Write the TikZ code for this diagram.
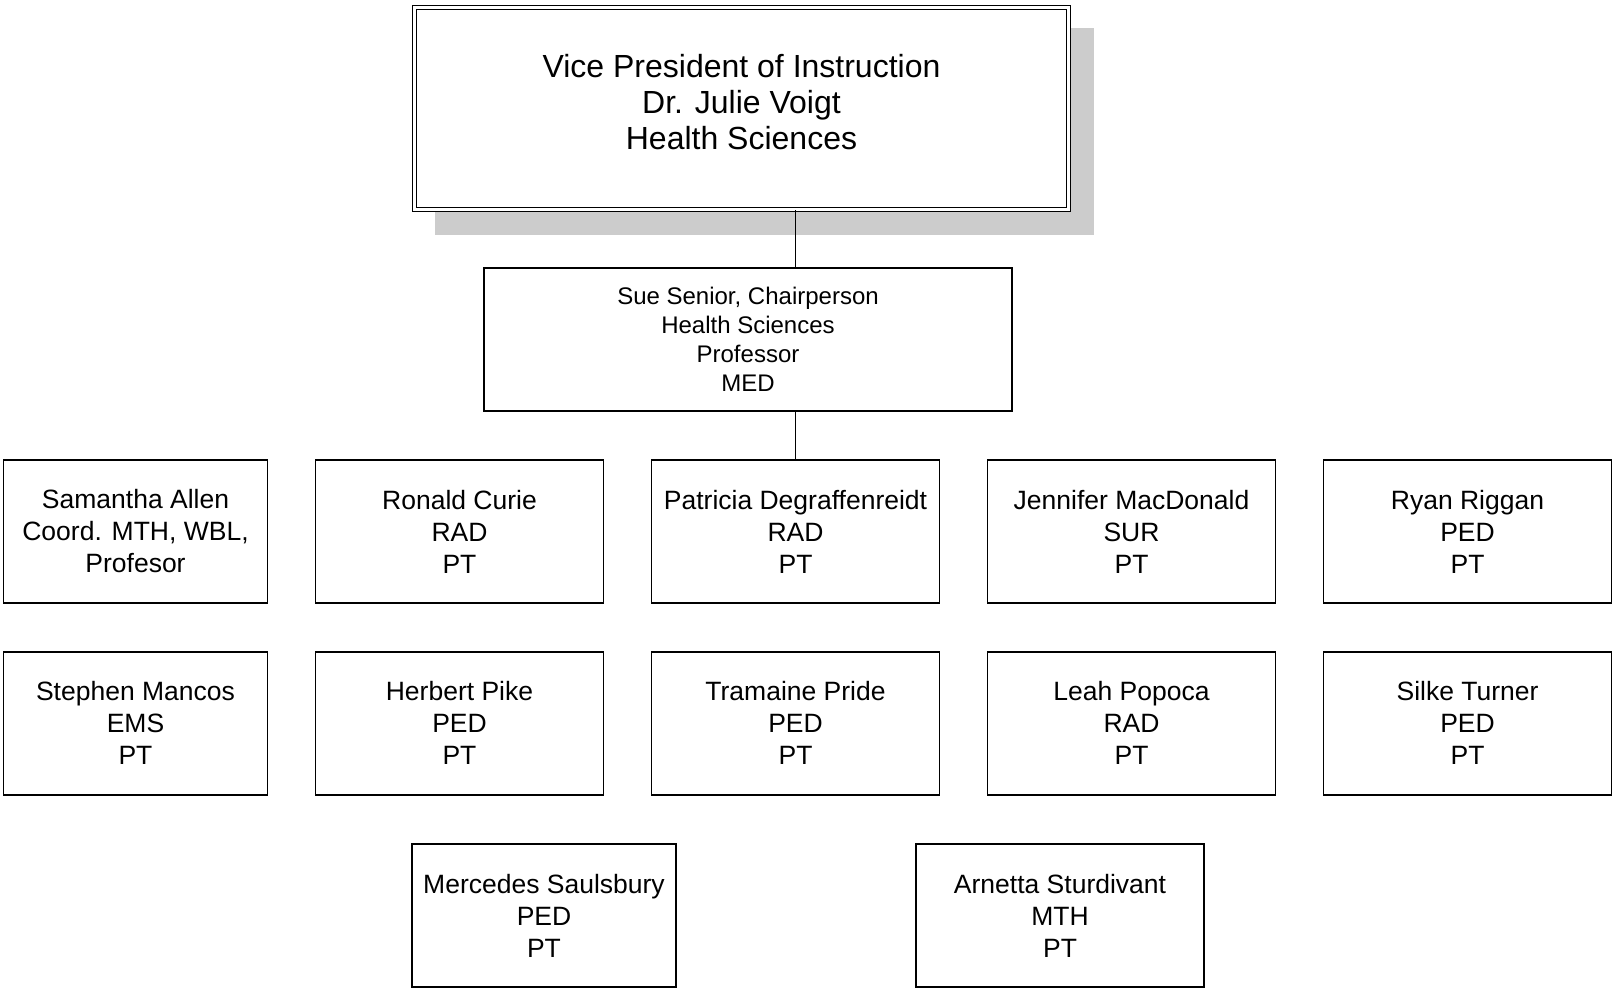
\documentclass[tikz,border=0pt]{standalone}
\usepackage{fontspec}
\setmainfont{Liberation Sans}
\usetikzlibrary{positioning, shadows}

\begin{document}
\begin{tikzpicture}[x=1pt, y=1pt, node distance=47.5pt and 46.6pt]

        % Styles
        \tikzstyle{staff} = [draw, line width=1.4pt, minimum width=288pt, minimum height=143pt, inner sep=0pt, align=center, font=\fontsize{26.5}{32}\selectfont]
        \tikzstyle{narrowstaff} = [staff, minimum width=264pt]
        \tikzstyle{chairbox} = [staff, minimum width=528pt, font=\fontsize{24}{28.8}\selectfont]
        \tikzstyle{vpbox} = [draw, double, fill=white, line width=1.4pt, double distance=2.2pt, minimum width=654pt, minimum height=202pt, align=center, text depth=13.5pt, font=\fontsize{32}{36}\selectfont, general shadow={fill=black!20, draw=black!20, line width=5pt, shadow xshift=22.5pt, shadow yshift=-23.5pt}]
        \tikzstyle{link} = [line width=1.3pt]

        \useasboundingbox (0,0) rectangle (1612,988);

        % Vice president and chair
        \node[vpbox] (vp) at (741.5,879.5) {Vice President of Instruction\\Dr. Julie Voigt\\Health Sciences};
        \node[chairbox] (chair) at (748,648.5) {Sue Senior, Chairperson\\Health Sciences\\Professor\\MED};

        % First row
        \node[narrowstaff] (allen) at (135.5,456.5) {Samantha Allen\\Coord. MTH, WBL,\\Profesor};
        \node[staff, right=of allen] (curie) {Ronald Curie\\RAD\\PT};
        \node[staff, right=of curie] (degraf) {Patricia Degraffenreidt\\RAD\\PT};
        \node[staff, right=of degraf] (macdonald) {Jennifer MacDonald\\SUR\\PT};
        \node[staff, right=of macdonald] (riggan) {Ryan Riggan\\PED\\PT};

        % Second row
        \node[narrowstaff, below=of allen] (mancos) {Stephen Mancos\\EMS\\PT};
        \node[staff, below=of curie] (pike) {Herbert Pike\\PED\\PT};
        \node[staff, below=of degraf] (pride) {Tramaine Pride\\PED\\PT};
        \node[staff, below=of macdonald] (popoca) {Leah Popoca\\RAD\\PT};
        \node[staff, below=of riggan] (turner) {Silke Turner\\PED\\PT};

        % Third row
        \node[narrowstaff] (saulsbury) at (544,72.5) {Mercedes Saulsbury\\PED\\PT};
        \node[staff] (sturdivant) at (1060,72.5) {Arnetta Sturdivant\\MTH\\PT};

        % Connectors
        \draw[link] (vp.south -| degraf.north) -- (chair.north -| degraf.north);
        \draw[link] (chair.south -| degraf.north) -- (degraf.north);

\end{tikzpicture}
\end{document}
